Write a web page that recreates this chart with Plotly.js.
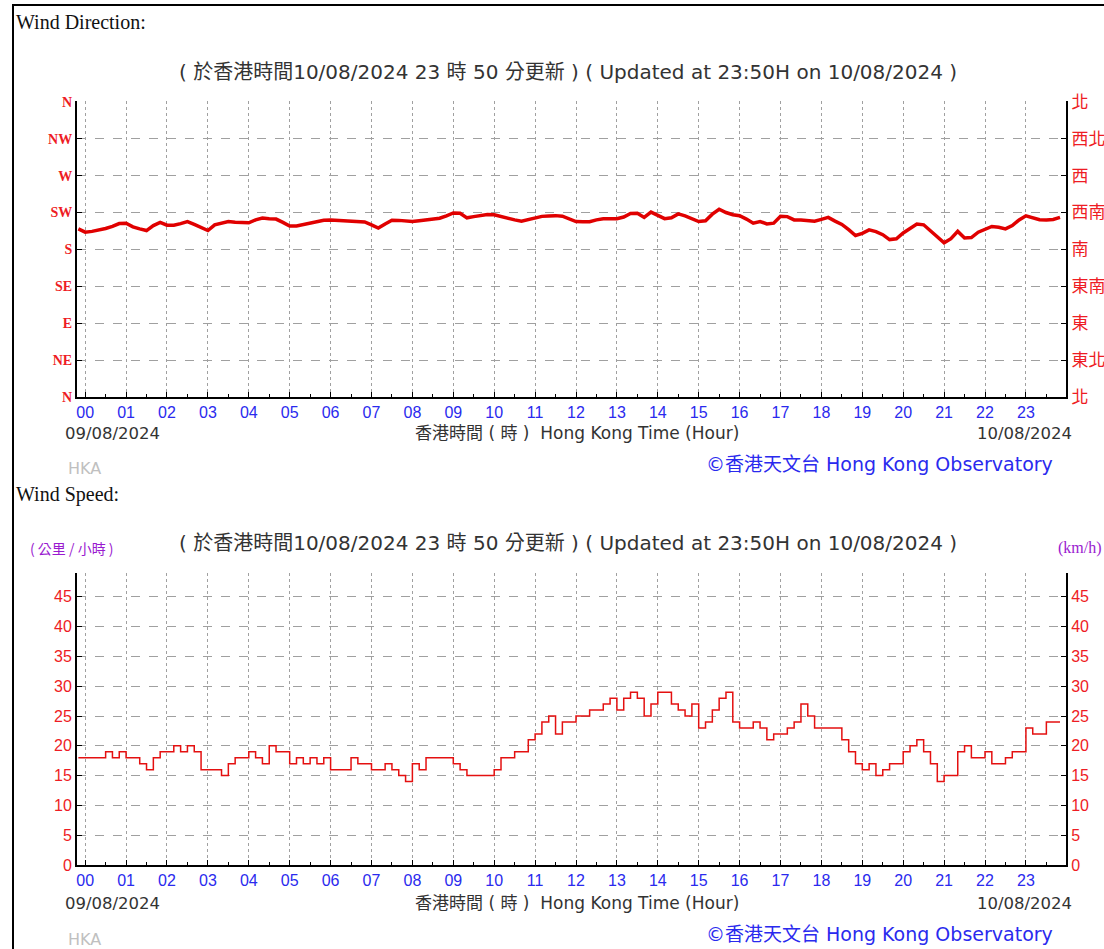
<!DOCTYPE html>
<html><head><meta charset="utf-8">
<script src="https://cdn.plot.ly/plotly-3.0.1.min.js"></script>
<style>
html,body{margin:0;padding:0;background:#fff;overflow:hidden;}
#chart{position:absolute;left:0;top:0;width:1104px;height:949px;}
#frame{position:absolute;left:12px;top:4px;width:1200px;height:1100px;border:2px solid #000;pointer-events:none;}
</style></head><body>
<div id="chart"></div><div id="frame"></div>
<script>
// ---- data (10-minute readings, first reading at 23:50 of previous day) ----
const startMinute = -10;
const stepMinutes = 10;
const windDirection = [205,201,202,203.5,205.5,208,211.5,212,207.5,205,203,209,213,209.5,209.5,211.5,214,210.5,206.5,203,210,212.5,214,213,212.5,212.5,216,218.2,217.5,217,213,208.5,208.5,210.5,212.3,213.5,215.5,216,215.6,215.4,215,214.5,213.5,210,206,211,215.5,215.4,214.8,214,215,216,216.7,218,221,224.5,224,218.5,220,221.5,222.5,222.3,220,217.5,216,214.3,216,218.5,220.3,220.8,221.2,220.5,217,214,213.8,213.8,216,217.4,217.4,217.4,219.5,223.8,224,219,225.5,221.5,217.5,218.5,223.3,221,217.5,214,215,223,229,225,222.3,221,217,212,214,211,212,220.5,220,216,216,215.5,214.5,216.7,219,214.5,210.5,204,197,199.5,203.8,201.8,198,192,193,200,205.5,211,210,203,196,188,193,202,194,194.5,201,204.5,208,207,205,209,216,221,218.5,216.2,216,216.5,219];
const windSpeed = [18,18,18,18,19,18,19,18,18,17,16,18,19,19,20,19,20,19,16,16,16,15,17,18,18,19,18,17,20,19,19,17,18,17,18,17,18,16,16,16,18,17,17,16,16,17,16,15,14,17,16,18,18,18,18,17,16,15,15,15,15,16,18,18,19,19,21,22,24,25,22,24,24,25,25,26,26,27,28,26,28,29,28,25,27,29,29,27,26,25,27,23,24,26,28,29,24,23,23,24,23,21,22,22,23,24,27,25,23,23,23,23,21,19,17,16,17,15,16,17,17,19,20,21,19,17,14,15,15,19,20,18,18,19,17,17,18,19,19,23,22,22,24,24,24];
const hourTicks = [0,1,2,3,4,5,6,7,8,9,10,11,12,13,14,15,16,17,18,19,20,21,22,23];
const hourLabels = ["00","01","02","03","04","05","06","07","08","09","10","11","12","13","14","15","16","17","18","19","20","21","22","23"];
const dirTicks = [0,45,90,135,180,225,270,315,360];
const dirLabelsEn = ["N","NE","E","SE","S","SW","W","NW","N"];
const dirLabelsZh = ["北","東北","東","東南","南","西南","西","西北","北"];
const speedTicks = [0,5,10,15,20,25,30,35,40,45];
const speedLabels = ["0","5","10","15","20","25","30","35","40","45"];
const updatedText = "( 於香港時間10/08/2024 23 時 50 分更新 ) ( Updated at 23:50H on 10/08/2024 )";
const startDate = "09/08/2024", endDate = "10/08/2024";
const xTitle = "香港時間 ( 時 )  Hong Kong Time (Hour)";
const credit = "©香港天文台 Hong Kong Observatory";

// ---- build ----
const W = 1104, H = 949;
const hoursDir = windDirection.map((_, i) => (startMinute + i * stepMinutes) / 60);
const hoursSpd = windSpeed.map((_, i) => (startMinute + i * stepMinutes) / 60);
const px = x => x / W, py = y => 1 - y / H;
const SANS = "Liberation Sans, Arial, sans-serif";
const WIDE = "DejaVu Sans, Noto Sans CJK TC, sans-serif";
const CJK = "Noto Sans CJK TC, Liberation Sans, sans-serif";
const RED = "#ee1c24", BLUE = "#2a2aee";

const xBase = {
  range: [-0.2, 23.98], tickvals: hourTicks, ticktext: hourLabels,
  showgrid: true, gridcolor: "#a0a0a0", griddash: "dot", gridwidth: 1,
  showline: true, linecolor: "#000", linewidth: 2, zeroline: false,
  ticks: "inside", ticklen: 5, tickcolor: "#000", tickwidth: 1,
  tickfont: {family: SANS, size: 16, color: BLUE},
  minor: {tickmode: "linear", tick0: 0.5, dtick: 1, ticks: "inside", ticklen: 3, tickcolor: "#000", showgrid: false},
  fixedrange: true
};
const yGrid = {showgrid: true, gridcolor: "#a0a0a0", griddash: "dash", gridwidth: 1,
  showline: true, linecolor: "#000", linewidth: 2, zeroline: false,
  ticks: "inside", ticklen: 5, tickcolor: "#000", fixedrange: true};

const traces = [
  {x: hoursDir, y: windDirection, xaxis: "x", yaxis: "y", mode: "lines",
   line: {color: "#e00000", width: 3.5}, hoverinfo: "skip"},
  {x: hoursSpd, y: windSpeed, xaxis: "x2", yaxis: "y2", mode: "lines",
   line: {color: "#e41010", width: 1.5, shape: "hv"}, hoverinfo: "skip"}
];

const ann = (text, x, y, opts) => Object.assign({
  text, x: px(x), y: py(y), xref: "paper", yref: "paper", showarrow: false,
  xanchor: "left", yanchor: "middle", font: {family: WIDE, size: 16.5, color: "#333"}
}, opts || {});

const annotations = [
  ann("Wind Direction:", 14, 22, {font: {family: "Liberation Serif, serif", size: 20, color: "#111"}}),
  ann(updatedText, 568, 72, {xanchor: "center", font: {family: WIDE, size: 20, color: "#333"}}),
  ann(startDate, 63, 433),
  ann(xTitle, 577, 433, {xanchor: "center", font: {family: WIDE, size: 17, color: "#333"}}),
  ann(endDate, 1074, 433, {xanchor: "right"}),
  ann("HKA", 66, 468, {font: {family: WIDE, size: 16, color: "#c0c0c0"}}),
  ann(credit, 704, 464, {font: {family: WIDE, size: 19, color: BLUE}}),
  ann("Wind Speed:", 14, 494, {font: {family: "Liberation Serif, serif", size: 20, color: "#111"}}),
  ann("( 公里 / 小時 )", 28, 548, {font: {family: CJK, size: 14, color: "#9a1ad0"}}),
  ann(updatedText, 568, 543, {xanchor: "center", font: {family: WIDE, size: 20, color: "#333"}}),
  ann("(km/h)", 1056, 548, {font: {family: "Liberation Serif, serif", size: 16, color: "#9a1ad0"}}),
  ann(startDate, 63, 903),
  ann(xTitle, 577, 903, {xanchor: "center", font: {family: WIDE, size: 17, color: "#333"}}),
  ann(endDate, 1074, 903, {xanchor: "right"}),
  ann("HKA", 66, 939, {font: {family: WIDE, size: 16, color: "#c0c0c0"}}),
  ann(credit, 704, 934, {font: {family: WIDE, size: 19, color: BLUE}})
];

const topDom = [py(397), py(101)];
const botDom = [py(865), py(573)];
const xDom = [px(77), px(1066)];

const layout = {
  width: W, height: H, margin: {l: 0, r: 0, t: 0, b: 0},
  paper_bgcolor: "#fff", plot_bgcolor: "#fff", showlegend: false,
  xaxis: Object.assign({}, xBase, {domain: xDom, anchor: "y"}),
  xaxis2: Object.assign({}, xBase, {domain: xDom, anchor: "y2"}),
  yaxis: Object.assign({}, yGrid, {domain: topDom, anchor: "x", range: [0, 361],
    tickvals: dirTicks, ticktext: dirLabelsEn,
    tickfont: {family: "Liberation Serif, serif", size: 14, color: RED, weight: "bold"}}),
  yaxis3: Object.assign({}, yGrid, {overlaying: "y", side: "right", anchor: "x", range: [0, 361],
    showgrid: false, tickvals: dirTicks, ticktext: dirLabelsZh,
    tickfont: {family: CJK, size: 17, color: RED}}),
  yaxis2: Object.assign({}, yGrid, {domain: botDom, anchor: "x2", range: [0, 49],
    tickvals: speedTicks, ticktext: speedLabels,
    tickfont: {family: SANS, size: 16, color: RED}}),
  yaxis4: Object.assign({}, yGrid, {overlaying: "y2", side: "right", anchor: "x2", range: [0, 49],
    showgrid: false, tickvals: speedTicks, ticktext: speedLabels,
    tickfont: {family: SANS, size: 16, color: RED}}),
  annotations
};
// invisible traces so the right-hand axes are drawn
traces.push({x: [0], y: [0], xaxis: "x", yaxis: "y3", mode: "markers", marker: {opacity: 0}, hoverinfo: "skip"});
traces.push({x: [0], y: [0], xaxis: "x2", yaxis: "y4", mode: "markers", marker: {opacity: 0}, hoverinfo: "skip"});

Plotly.newPlot("chart", traces, layout, {staticPlot: true, displayModeBar: false});
</script></body></html>
